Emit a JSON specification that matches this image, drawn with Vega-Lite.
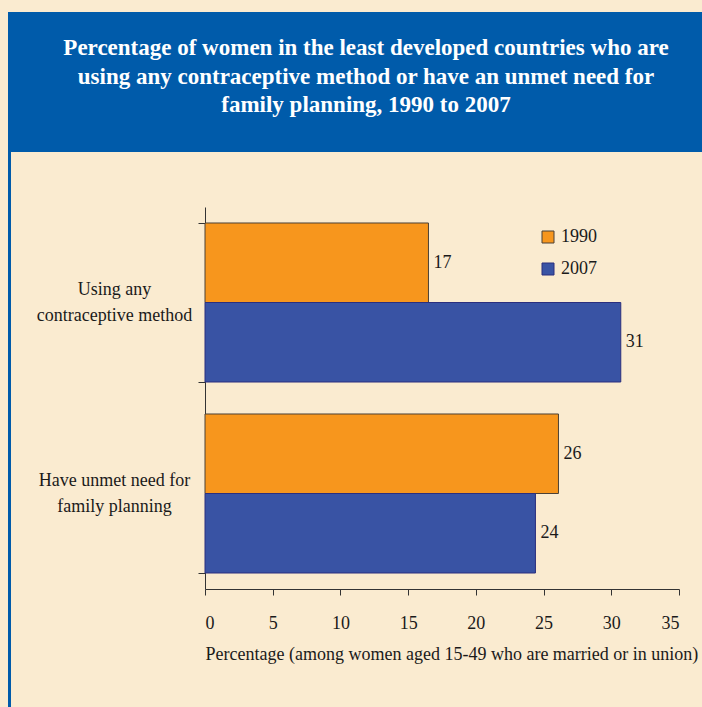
{
  "$schema": "https://vega.github.io/schema/vega-lite/v6.json",
  "background": "#FAEBD0",
  "padding": {"left": 8, "top": 12, "right": 0, "bottom": 0},
  "spacing": 0,
  "resolve": {"scale": {"fill": "independent", "stroke": "independent"}, "legend": {"fill": "independent", "stroke": "independent"}},
  "config": {"font": "Liberation Serif", "view": {"stroke": null}},
  "vconcat": [
    {
      "width": 694,
      "height": 140,
      "view": {"fill": "#005BAA", "stroke": null},
      "data": {"values": [{"title": "Percentage of women in the least developed countries who are\nusing any contraceptive method or have an unmet need for\nfamily planning, 1990 to 2007"}]},
      "mark": {"type": "text", "lineBreak": "\n", "font": "Liberation Serif", "fontWeight": "bold", "fontSize": 23, "color": "#FFFFFF", "lineHeight": 28.6, "baseline": "middle", "align": "center", "dy": -34, "dx": 11},
      "encoding": {"text": {"field": "title", "type": "nominal"}}
    },
    {
      "spacing": 0,
      "resolve": {"scale": {"fill": "independent", "stroke": "independent"}, "legend": {"fill": "independent", "stroke": "independent"}},
      "hconcat": [
        {
          "width": 3,
          "height": 555,
          "view": {"fill": "#005BAA", "stroke": null},
          "data": {"values": []},
          "mark": "point",
          "encoding": {}
        },
        {
          "spacing": 45,
          "resolve": {"scale": {"fill": "independent", "stroke": "independent"}, "legend": {"fill": "independent", "stroke": "independent"}},
          "vconcat": [
            {
              "width": 1,
              "height": 1,
              "data": {"values": []},
              "mark": "point",
              "encoding": {}
            },
            {
              "width": 474,
              "height": 382,
              "data": {"values": [
                {"indicator": "Using any contraceptive method", "year": "1990", "value": 16.5},
                {"indicator": "Using any contraceptive method", "year": "2007", "value": 30.7},
                {"indicator": "Have unmet need for family planning", "year": "1990", "value": 26.1},
                {"indicator": "Have unmet need for family planning", "year": "2007", "value": 24.4}
              ]},
              "encoding": {
                "y": {
                  "field": "indicator", "type": "nominal",
                  "sort": ["Using any contraceptive method", "Have unmet need for family planning"],
                  "scale": {"paddingInner": 0.1675, "paddingOuter": 0.08375},
                  "axis": {
                    "title": " ", "titleAngle": 0, "titleX": -194, "titleY": 0, "titleAlign": "left", "titleBaseline": "top",
                    "labelExpr": "datum.value == 'Using any contraceptive method' ? ['Using any', 'contraceptive method'] : datum.value == 'Have unmet need for family planning' ? ['Have unmet need for', 'family planning'] : ''",
                    "labelAlign": "center", "labelBaseline": "middle", "labelPadding": 84, "labelOffset": -13, "labelFontSize": 18, "labelLineHeight": 26, "labelColor": "#1a1a1a",
                    "tickSize": 7, "tickBand": "extent", "tickColor": "#333333", "domainColor": "#333333", "grid": false
                  }
                },
                "yOffset": {"field": "year", "type": "nominal", "sort": ["1990", "2007"], "scale": {"paddingInner": 0, "paddingOuter": 0}}
              },
              "layer": [
                {
                  "mark": {"type": "bar", "strokeWidth": 1},
                  "encoding": {
                    "x": {
                      "field": "value", "type": "quantitative",
                      "scale": {"domain": [0, 35], "nice": false},
                      "axis": {
                        "values": [0, 5, 10, 15, 20, 25, 30, 35], "grid": false,
                        "tickSize": 6, "tickColor": "#333333", "domainColor": "#333333",
                        "labelPadding": 19, "labelFontSize": 18, "labelColor": "#1a1a1a",
                        "title": "Percentage (among women aged 15-49 who are married or in union)",
                        "titleAnchor": "start", "titleAlign": "left", "titleFontWeight": "normal", "titleFontSize": 18, "titleColor": "#1a1a1a", "titlePadding": 13
                      }
                    },
                    "fill": {
                      "field": "year", "type": "nominal",
                      "scale": {"domain": ["1990", "2007"], "range": ["#F7961D", "#3953A4"]},
                      "legend": {"orient": "none", "legendX": 334, "legendY": 21, "title": null, "symbolType": "square", "symbolSize": 144, "symbolStrokeWidth": 1, "labelFontSize": 18, "labelColor": "#1a1a1a", "labelOffset": 4, "rowPadding": 14, "padding": 0}
                    },
                    "stroke": {
                      "field": "year", "type": "nominal",
                      "scale": {"domain": ["1990", "2007"], "range": ["#4a4036", "#2B2F7E"]},
                      "legend": {"orient": "none", "legendX": 334, "legendY": 21, "title": null, "symbolType": "square", "symbolSize": 144, "symbolStrokeWidth": 1, "labelFontSize": 18, "labelColor": "#1a1a1a", "labelOffset": 4, "rowPadding": 14, "padding": 0}
                    }
                  }
                },
                {
                  "mark": {"type": "text", "align": "left", "baseline": "middle", "dx": 5, "fontSize": 18, "color": "#1a1a1a"},
                  "encoding": {
                    "x": {"field": "value", "type": "quantitative"},
                    "text": {"field": "value", "type": "quantitative", "format": ".0f"}
                  }
                }
              ]
            }
          ]
        }
      ]
    }
  ]
}
